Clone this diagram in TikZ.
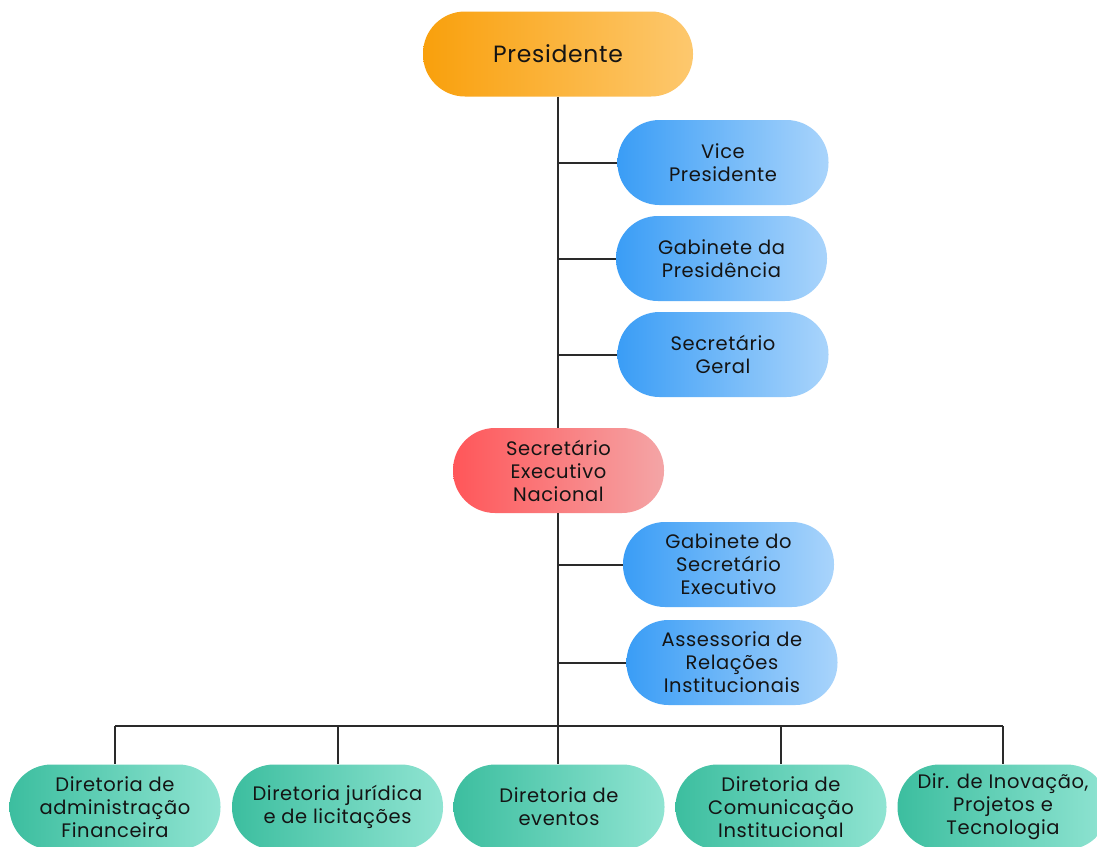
\documentclass[tikz,border=0pt]{standalone}
\usepackage{fontspec}
\setmainfont{Poppins}[LetterSpace=3]
\definecolor{orgL}{HTML}{F9A00C}
\definecolor{orgR}{HTML}{FDC86E}
\definecolor{bluL}{HTML}{3A9DF6}
\definecolor{bluR}{HTML}{A9D4FB}
\definecolor{redL}{HTML}{FF5659}
\definecolor{redR}{HTML}{F4A5A6}
\definecolor{grnL}{HTML}{3CBE9F}
\definecolor{grnR}{HTML}{90E4D2}
\definecolor{txt}{HTML}{141414}
\definecolor{ln}{HTML}{2A2A2A}
\begin{document}
\begin{tikzpicture}[x=1pt,y=-1pt,
  pill/.style={rounded corners=42pt, minimum width=211pt, minimum height=85pt,
    align=center, inner sep=0pt, text=txt, font=\fontsize{19.5}{23}\selectfont},
  orangebox/.style={pill, left color=orgL, right color=orgR},
  bluebox/.style={pill, left color=bluL, right color=bluR},
  redbox/.style={pill, left color=redL, right color=redR},
  greenbox/.style={pill, left color=grnL, right color=grnR},
  conn/.style={draw=ln, line width=2pt}]
\useasboundingbox (0,0) rectangle (1097,846);
\clip (0,0) rectangle (1097,846);
\fill[white] (0,0) rectangle (1097,846);

\node[orangebox, minimum width=270pt, font=\fontsize{23.5}{27}\selectfont] (pres) at (558,54) {Presidente};
\node[bluebox] (vp) at (723,162.5) {Vice\\Presidente};
\node[bluebox] (gp) at (721.5,258.5) {Gabinete da\\Presidência};
\node[bluebox] (sg) at (723,354.5) {Secretário\\Geral};
\node[redbox] (sen) at (558.5,470.5) {Secretário\\Executivo\\Nacional};
\node[bluebox] (gse) at (728.5,564.5) {Gabinete do\\Secretário\\Executivo};
\node[bluebox] (ari) at (732,662.5) {Assessoria de\\Relações\\Institucionais};

\node[greenbox] (d1) at (115,807) {Diretoria de\\administração\\Financeira};
\node[greenbox] (d2) at (337.5,807) {Diretoria jurídica\\e de licitações};
\node[greenbox] (d3) at (559,807) {Diretoria de\\eventos};
\node[greenbox] (d4) at (781,807) {Diretoria de\\Comunicação\\Institucional};
\node[greenbox] (d5) at (1003,807) {Dir. de Inovação,\\Projetos e\\Tecnologia};

\coordinate (busM) at (558,726);
\coordinate (busL) at (115,726);
\coordinate (busR) at (1003,726);

\draw[conn] (pres.south) -- (pres.south |- sen.north);
\draw[conn] (vp.west) -- (vp.west -| pres.south);
\draw[conn] (gp.west) -- (gp.west -| pres.south);
\draw[conn] (sg.west) -- (sg.west -| pres.south);
\draw[conn] (sen.south -| pres.south) -- (busM);
\draw[conn] (gse.west) -- (gse.west -| busM);
\draw[conn] (ari.west) -- (ari.west -| busM);
\draw[conn] (busL) -- (busR);
\draw[conn] (busL) -- (d1.north);
\draw[conn] (d2.north |- busL) -- (d2.north);
\draw[conn] (busM) -- (d3.north -| busM);
\draw[conn] (d4.north |- busL) -- (d4.north);
\draw[conn] (busR) -- (d5.north);
\end{tikzpicture}
\end{document}
